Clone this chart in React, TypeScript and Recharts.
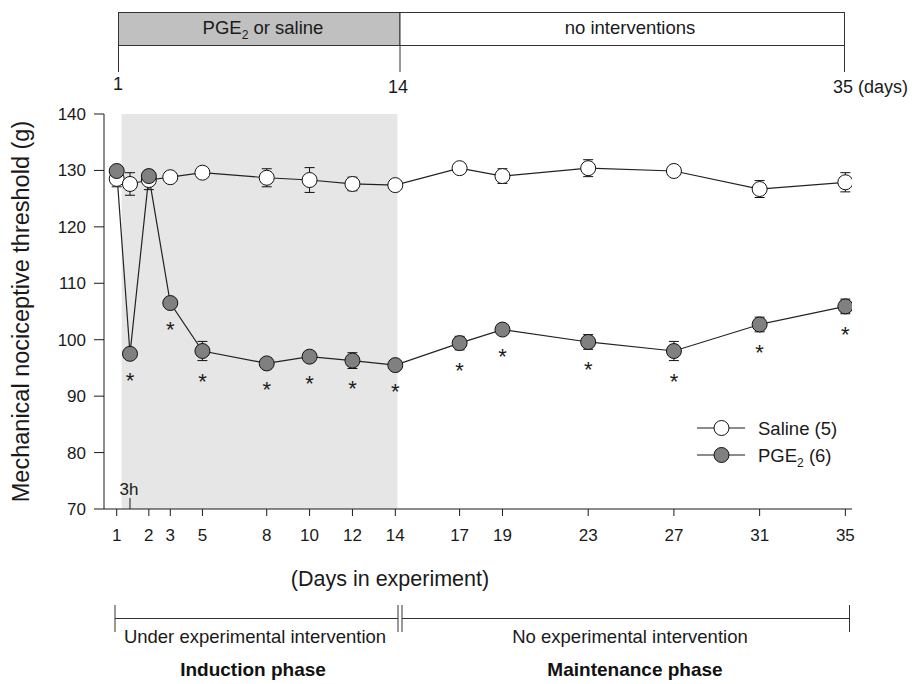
import React from 'react';
import { ComposedChart, Line, XAxis, YAxis, ReferenceArea, ErrorBar, LabelList } from 'recharts';

// ---- data ----
const timeLabels = ['1', '3h', '2', '3', '5', '8', '10', '12', '14', '17', '19', '23', '27', '31', '35'];
const timePos = [1, 1.62, 2.5, 3.5, 5, 8, 10, 12, 14, 17, 19, 23, 27, 31, 35];
const salineMean = [128.5, 127.6, 128.3, 128.8, 129.6, 128.7, 128.3, 127.6, 127.4, 130.4, 129.0, 130.4, 129.9, 126.7, 127.9];
const salineSE = [1.4, 2.0, 1.7, 0.6, 0.5, 1.6, 2.2, 1.2, 0.5, 0.6, 1.3, 1.5, 0.6, 1.5, 1.7];
const pgeMean = [129.9, 97.5, 129.0, 106.5, 98.0, 95.8, 97.0, 96.3, 95.5, 99.4, 101.8, 99.6, 98.0, 102.7, 105.9];
const pgeSE = [0.8, 0.8, 0.8, 0.7, 1.7, 0.8, 0.8, 1.4, 0.6, 1.2, 0.7, 1.3, 1.7, 1.3, 1.3];
const pgeSignificant = [false, true, false, true, true, true, true, true, true, true, true, true, true, true, true];
const yTicks = [70, 80, 90, 100, 110, 120, 130, 140];
const inductionStart = 1.23;
const inductionEnd = 14.1;

const data = timePos.map((x, i) => ({
  x,
  label: timeLabels[i],
  saline: salineMean[i],
  salineErr: salineSE[i],
  pge: pgeMean[i],
  pgeErr: pgeSE[i],
  sig: pgeSignificant[i] ? 1 : 0,
}));

const W = 917;
const H = 684;
const PLOT_LEFT = 104;
const PLOT_TOP = 114;
const PLOT_RIGHT = 852;
const PLOT_BOTTOM = 509;
const Y_MIN = 70;
const Y_MAX = 140;
const PX_PER_UNIT = (PLOT_BOTTOM - PLOT_TOP) / (Y_MAX - Y_MIN);
const FONT = '"Liberation Sans", Arial, Helvetica, sans-serif';
const INK = '#1a1a1a';

const labelFor = (v: number) => {
  const i = timePos.indexOf(v);
  return i >= 0 ? timeLabels[i] : String(v);
};

const XTick = (props: any) => {
  const { x, y, payload } = props;
  const lab = labelFor(payload.value);
  if (lab === '3h') {
    return (
      <g>
        <line x1={x} y1={y} x2={x} y2={y - 11} stroke={INK} strokeWidth={1} />
        <text x={x - 1} y={y - 14} textAnchor="middle" fontSize={17} fontFamily={FONT} fill={INK}>3h</text>
      </g>
    );
  }
  return (
    <g>
      <line x1={x} y1={y} x2={x} y2={y + 7} stroke={INK} strokeWidth={1} />
      <text x={x} y={y + 32} textAnchor="middle" fontSize={17} fontFamily={FONT} fill={INK}>{lab}</text>
    </g>
  );
};

const Star = (props: any) => {
  const { x, y, value, index } = props;
  if (!value) return null;
  const off = Math.max(22, pgeSE[index] * PX_PER_UNIT + 16);
  return (
    <text x={x} y={y + off + 12} textAnchor="middle" fontSize={22} fontFamily={FONT} fill={INK}>*</text>
  );
};

const Overlay = () => (
  <svg width={W} height={H} style={{ position: 'absolute', left: 0, top: 0, pointerEvents: 'none' }}>
    {/* top timeline bar */}
    <rect x={118.5} y={12.5} width={281.5} height={33} fill="#c0c0c0" stroke="#333" strokeWidth={1} />
    <rect x={400} y={12.5} width={444.5} height={33} fill="#fff" stroke="#333" strokeWidth={1} />
    <line x1={118.5} y1={45.5} x2={118.5} y2={72} stroke="#333" strokeWidth={1} />
    <line x1={400} y1={45.5} x2={400} y2={72} stroke="#333" strokeWidth={1} />
    <line x1={844.5} y1={45.5} x2={844.5} y2={72} stroke="#333" strokeWidth={1} />
    <text x={263} y={34} textAnchor="middle" fontSize={18.5} fontFamily={FONT} fill={INK}>
      PGE<tspan fontSize={12} dy={5}>2</tspan><tspan dy={-5}> or saline</tspan>
    </text>
    <text x={630} y={34} textAnchor="middle" fontSize={18.5} fontFamily={FONT} fill={INK}>no interventions</text>
    <text x={118} y={89.5} textAnchor="middle" fontSize={18} fontFamily={FONT} fill={INK}>1</text>
    <text x={398} y={92.5} textAnchor="middle" fontSize={18} fontFamily={FONT} fill={INK}>14</text>
    <text x={833} y={92.5} textAnchor="start" fontSize={18} fontFamily={FONT} fill={INK}>35 (days)</text>

    {/* y-axis title */}
    <text
      transform={`translate(29, ${(PLOT_TOP + PLOT_BOTTOM) / 2}) rotate(-90)`}
      textAnchor="middle"
      fontSize={23.5}
      fontFamily={FONT}
      fill={INK}
    >
      Mechanical nociceptive threshold (g)
    </text>

    {/* x-axis title */}
    <text x={390} y={586} textAnchor="middle" fontSize={21.5} fontFamily={FONT} fill={INK}>(Days in experiment)</text>

    {/* legend */}
    <line x1={697} y1={428} x2={745} y2={428} stroke={INK} strokeWidth={1.2} />
    <circle cx={721.5} cy={428} r={7.5} fill="#fff" stroke="#111" strokeWidth={1} />
    <text x={758} y={435} fontSize={18.5} fontFamily={FONT} fill={INK}>Saline (5)</text>
    <line x1={697} y1={455} x2={745} y2={455} stroke={INK} strokeWidth={1.2} />
    <circle cx={721.5} cy={455} r={7.5} fill="#808080" stroke="#111" strokeWidth={1} />
    <text x={758} y={462} fontSize={18.5} fontFamily={FONT} fill={INK}>
      PGE<tspan fontSize={12} dy={5}>2</tspan><tspan dy={-5}> (6)</tspan>
    </text>

    {/* bottom phase annotations */}
    <line x1={115} y1={618.5} x2={398} y2={618.5} stroke="#333" strokeWidth={1} />
    <line x1={115} y1={605} x2={115} y2={632} stroke="#333" strokeWidth={1} />
    <line x1={398} y1={605} x2={398} y2={632} stroke="#333" strokeWidth={1} />
    <line x1={402} y1={605} x2={402} y2={632} stroke="#333" strokeWidth={1} />
    <line x1={402} y1={618.5} x2={849.5} y2={618.5} stroke="#333" strokeWidth={1} />
    <line x1={849.5} y1={605} x2={849.5} y2={632} stroke="#333" strokeWidth={1} />
    <text x={255} y={643} textAnchor="middle" fontSize={18.5} fontFamily={FONT} fill={INK}>Under experimental intervention</text>
    <text x={630} y={643} textAnchor="middle" fontSize={18.5} fontFamily={FONT} fill={INK}>No experimental intervention</text>
    <text x={253} y={676} textAnchor="middle" fontSize={19} fontWeight="bold" fontFamily={FONT} fill="#111">Induction phase</text>
    <text x={635} y={676} textAnchor="middle" fontSize={19} fontWeight="bold" fontFamily={FONT} fill="#111">Maintenance phase</text>
  </svg>
);

export default function App() {
  return (
    <div style={{ position: 'absolute', left: 0, top: 0, width: W, height: H, background: '#fff' }}>
      <ComposedChart
        width={W}
        height={H}
        data={data}
        margin={{ top: PLOT_TOP, right: W - PLOT_RIGHT, bottom: 0, left: 0 }}
      >
        <ReferenceArea
          x1={inductionStart}
          x2={inductionEnd}
          y1={Y_MIN}
          y2={Y_MAX}
          fill="#e6e6e6"
          fillOpacity={1}
          stroke="none"
        />
        <XAxis
          dataKey="x"
          type="number"
          domain={[0.407, 35.31]}
          ticks={timePos}
          interval={0}
          height={H - PLOT_BOTTOM}
          tickLine={false}
          tickSize={0}
          tickMargin={0}
          tick={<XTick />}
          axisLine={{ stroke: INK, strokeWidth: 1 }}
          allowDataOverflow
        />
        <YAxis
          type="number"
          domain={[Y_MIN, Y_MAX]}
          ticks={yTicks}
          interval={0}
          width={PLOT_LEFT}
          tickSize={10}
          tickMargin={8}
          tickLine={{ stroke: INK, strokeWidth: 1 }}
          axisLine={{ stroke: INK, strokeWidth: 1 }}
          tick={{ fontSize: 17, fontFamily: FONT, fill: INK }}
          allowDataOverflow
        />
        <Line
          dataKey="saline"
          stroke="#222"
          strokeWidth={1.2}
          isAnimationActive={false}
          dot={{ r: 7.5, fill: '#fff', stroke: '#111', strokeWidth: 1 }}
          activeDot={false}
        >
          <ErrorBar dataKey="salineErr" direction="y" width={5} stroke="#111" strokeWidth={1} />
        </Line>
        <Line
          dataKey="pge"
          stroke="#222"
          strokeWidth={1.2}
          isAnimationActive={false}
          dot={{ r: 7.5, fill: '#808080', stroke: '#111', strokeWidth: 1 }}
          activeDot={false}
        >
          <ErrorBar dataKey="pgeErr" direction="y" width={5} stroke="#111" strokeWidth={1} />
          <LabelList dataKey="sig" content={<Star />} />
        </Line>
      </ComposedChart>
      <Overlay />
    </div>
  );
}
